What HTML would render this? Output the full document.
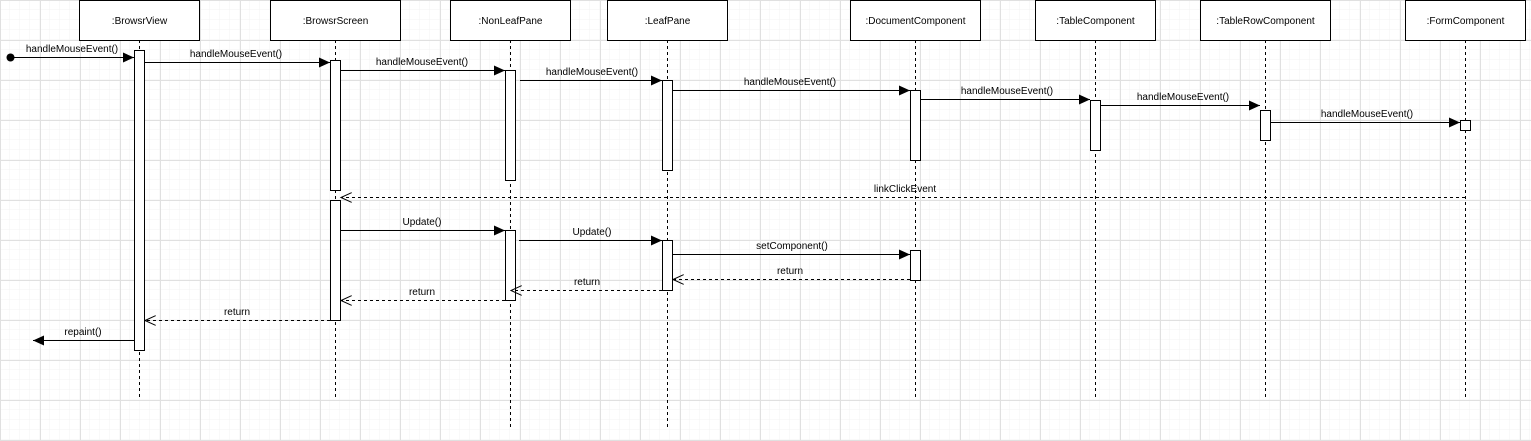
<!DOCTYPE html>
<html><head><meta charset="utf-8"><style>
html,body{margin:0;padding:0;background:#fff}
svg{display:block}
text{font-family:"Liberation Sans",Arial,sans-serif;font-size:10px;fill:#000}
</style></head><body>
<svg width="1531" height="441" viewBox="0 0 1531 441" xmlns="http://www.w3.org/2000/svg">
<defs>
<pattern id="minor" width="10" height="10" patternUnits="userSpaceOnUse"><path d="M10 0V10M0 10H10" stroke="#f3f3f3" stroke-width="1" fill="none"/></pattern>
<pattern id="major" width="40" height="40" patternUnits="userSpaceOnUse"><rect width="40" height="40" fill="url(#minor)"/><path d="M0.5 0V40M0 0.5H40" stroke="#e0e0e0" stroke-width="1" fill="none"/></pattern>
<marker id="fa" markerWidth="12" markerHeight="10" refX="11" refY="5" orient="auto" markerUnits="userSpaceOnUse"><path d="M0 0L11 5L0 10Z" fill="#000"/></marker>
<marker id="oa" markerWidth="12" markerHeight="10" refX="11" refY="5" orient="auto" markerUnits="userSpaceOnUse"><path d="M0 0L11 5L0 10" fill="none" stroke="#000"/></marker>
</defs>
<rect width="1531" height="441" fill="url(#major)"/>
<g stroke="#000" stroke-dasharray="3,3" fill="none">
<path d="M139.5 40V400M335.5 40V400M510.5 40V430M667.5 40V430M915.5 40V400M1095.5 40V400M1265.5 40V400M1465.5 40V400"/>
</g>
<g fill="#fff" stroke="#000">
<rect x="79.5" y="0.5" width="120" height="40"/>
<rect x="270.5" y="0.5" width="130" height="40"/>
<rect x="450.5" y="0.5" width="120" height="40"/>
<rect x="607.5" y="0.5" width="120" height="40"/>
<rect x="850.5" y="0.5" width="130" height="40"/>
<rect x="1035.5" y="0.5" width="120" height="40"/>
<rect x="1200.5" y="0.5" width="130" height="40"/>
<rect x="1405.5" y="0.5" width="120" height="40"/>
</g>
<g text-anchor="middle">
<text x="139.5" y="24">:BrowsrView</text>
<text x="335.5" y="24">:BrowsrScreen</text>
<text x="510.5" y="24">:NonLeafPane</text>
<text x="667.5" y="24">:LeafPane</text>
<text x="915.5" y="24">:DocumentComponent</text>
<text x="1095.5" y="24">:TableComponent</text>
<text x="1265.5" y="24">:TableRowComponent</text>
<text x="1465.5" y="24">:FormComponent</text>
</g>
<g fill="#fff" stroke="#000">
<rect x="134.5" y="50.5" width="10" height="300"/>
<rect x="330.5" y="60.5" width="10" height="130"/>
<rect x="330.5" y="200.5" width="10" height="120"/>
<rect x="505.5" y="70.5" width="10" height="110"/>
<rect x="505.5" y="230.5" width="10" height="70"/>
<rect x="662.5" y="80.5" width="10" height="90"/>
<rect x="662.5" y="240.5" width="10" height="50"/>
<rect x="910.5" y="90.5" width="10" height="70"/>
<rect x="910.5" y="250.5" width="10" height="30"/>
<rect x="1090.5" y="100.5" width="10" height="50"/>
<rect x="1260.5" y="110.5" width="10" height="30"/>
<rect x="1460.5" y="120.5" width="10" height="10"/>
</g>
<circle cx="10.5" cy="57.5" r="4" fill="#000"/>
<g stroke="#000" fill="none" marker-end="url(#fa)">
<path d="M10 57.5H134"/>
<path d="M145 62.5H330"/>
<path d="M341 70.5H505"/>
<path d="M520 80.5H662"/>
<path d="M673 90.5H910"/>
<path d="M921 99.5H1090"/>
<path d="M1101 105.5H1260"/>
<path d="M1271 122.5H1460"/>
<path d="M341 230.5H505"/>
<path d="M519 240.5H662"/>
<path d="M673 254.5H910"/>
<path d="M134 340.5H33"/>
</g>
<g stroke="#000" fill="none" stroke-dasharray="3,3" marker-end="url(#oa)">
<path d="M1465 197.5H341"/>
<path d="M910 279.5H673"/>
<path d="M662 290.5H511"/>
<path d="M505 300.5H341"/>
<path d="M330 320.5H145"/>
</g>
<g text-anchor="middle">
<text x="72" y="52">handleMouseEvent()</text>
<text x="236" y="57">handleMouseEvent()</text>
<text x="422" y="65">handleMouseEvent()</text>
<text x="592" y="75">handleMouseEvent()</text>
<text x="790" y="85">handleMouseEvent()</text>
<text x="1007" y="94">handleMouseEvent()</text>
<text x="1183" y="100">handleMouseEvent()</text>
<text x="1367" y="117">handleMouseEvent()</text>
<text x="905" y="192">linkClickEvent</text>
<text x="422" y="225">Update()</text>
<text x="592" y="235">Update()</text>
<text x="792" y="249">setComponent()</text>
<text x="790" y="274">return</text>
<text x="587" y="285">return</text>
<text x="422" y="295">return</text>
<text x="237" y="315">return</text>
<text x="83" y="335">repaint()</text>
</g>
</svg>
</body></html>
